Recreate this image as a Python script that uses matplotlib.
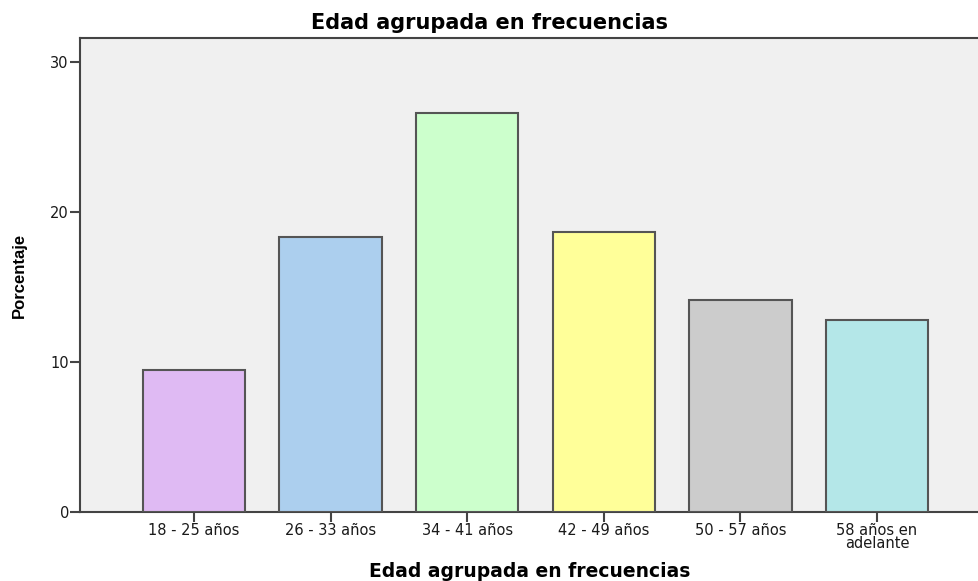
import matplotlib
matplotlib.use('Agg')
import matplotlib.pyplot as plt

# Data
categorias = ['18 - 25 años', '26 - 33 años', '34 - 41 años',
              '42 - 49 años', '50 - 57 años', '58 años en\nadelante']
porcentajes = [9.5, 18.35, 26.6, 18.65, 14.15, 12.8]
colores = ['#dfbaf3', '#accfee', '#ccffcc', '#ffff99', '#cccccc', '#b4e7e8']

plt.rcParams['font.family'] = ['DejaVu Sans']

fig = plt.figure(figsize=(9.79, 5.81), dpi=100)
ax = fig.add_axes([80 / 979, 69 / 581, 899 / 979, 474 / 581])
ax.set_facecolor('#f0f0f0')

pos = list(range(len(categorias)))
ax.bar(pos, porcentajes, width=0.75, color=colores,
       edgecolor='#555555', linewidth=1.5, zorder=3)

ax.set_xlim(-0.835, 5.747)
ax.set_ylim(0, 31.6)
ax.set_yticks([0, 10, 20, 30])
ax.set_xticks(pos)
ax.set_xticklabels(categorias, linespacing=0.85)
ax.tick_params(axis='both', length=7, width=1.5, color='#444444',
               labelsize=10.5, labelcolor='#1a1a1a', pad=1)

for side in ['left', 'bottom', 'top']:
    ax.spines[side].set_color('#444444')
    ax.spines[side].set_linewidth(1.5)
ax.spines['right'].set_visible(False)

# title is centred on the whole figure, not on the axes
fig.text(0.5, 1 - 23 / 581, 'Edad agrupada en frecuencias', fontsize=15,
         fontweight='bold', ha='center', va='center')
ax.set_xlabel('Edad agrupada en frecuencias', fontsize=13.5,
              fontweight='bold', labelpad=8)
ax.set_ylabel('Porcentaje', fontsize=12, fontweight='bold',
              labelpad=17, family=['Liberation Sans Narrow', 'Liberation Sans'])

fig.savefig('out.png', dpi=100)
